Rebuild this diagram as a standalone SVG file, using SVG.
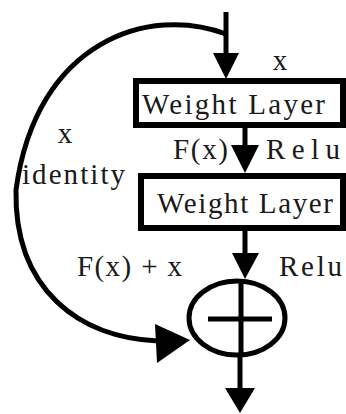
<svg xmlns="http://www.w3.org/2000/svg" width="346" height="414" viewBox="0 0 346 414">
<style>
.box{fill:#fff;stroke:#000;stroke-width:6}
.ln{fill:none;stroke:#000;stroke-width:5}
.hd{fill:#000}
text{font-family:"Liberation Serif","Times New Roman",serif;font-size:29px;fill:#1a1a1a}
</style>
<rect width="346" height="414" fill="#fff"/>
<g id="connectors">
<path class="ln" d="M226,12 V56"/>
<polygon class="hd" points="213,53 239,53 226,79"/>
<path class="ln" d="M226,34 C150,5 36,40 16,190 C14,290 80,338 158,341"/>
<polygon class="hd" points="155,324 190,340 157,363"/>
<path class="ln" d="M245,128 V148"/>
<polygon class="hd" points="231,145 259,145 245,173"/>
<path class="ln" d="M245,231 V256"/>
<polygon class="hd" points="232,253 259,253 245,279"/>
<path class="ln" d="M240,357 V392"/>
<polygon class="hd" points="225,388 255,388 240,413"/>
</g>
<g id="w1">
<rect class="box" x="136" y="81" width="207" height="44"/>
<text x="142" y="114" textLength="183" lengthAdjust="spacing">Weight Layer</text>
</g>
<g id="w2">
<rect class="box" x="141" y="176" width="202" height="52"/>
<text x="157" y="213" textLength="176" lengthAdjust="spacing">Weight Layer</text>
</g>
<g id="sum">
<ellipse cx="237" cy="318" rx="48" ry="37" fill="#fff" stroke="#000" stroke-width="5"/>
<path class="ln" d="M241,281 V356 M208,319 H272"/>
</g>
<g id="labels">
<text x="280" y="70" text-anchor="middle">x</text>
<text x="65" y="143" text-anchor="middle">x</text>
<text x="22" y="184" textLength="103" lengthAdjust="spacing">identity</text>
<text x="173" y="159" textLength="55" lengthAdjust="spacing">F(x)</text>
<text x="266" y="159" textLength="74" lengthAdjust="spacing">Relu</text>
<text x="77" y="276" textLength="105" lengthAdjust="spacing">F(x) + x</text>
<text x="279" y="276" textLength="63" lengthAdjust="spacing">Relu</text>
</g>
</svg>
